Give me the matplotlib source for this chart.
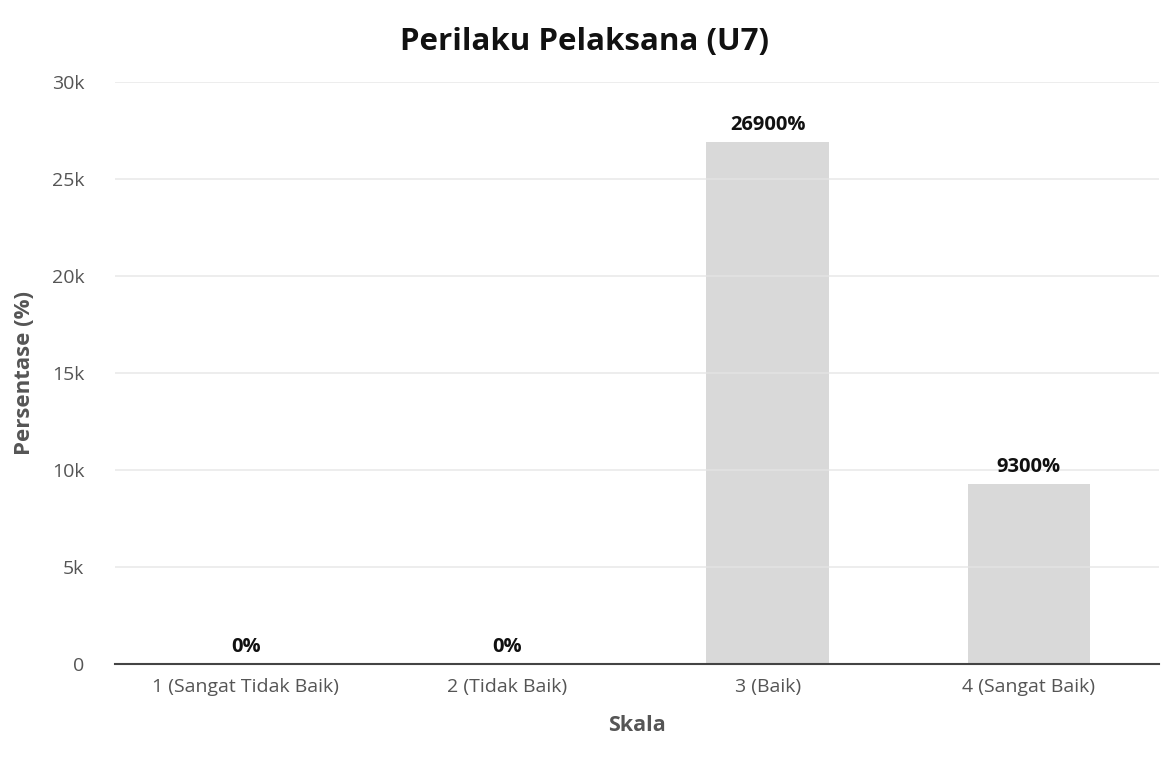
import numpy as np
import matplotlib.pyplot as plt

plt.rcParams['font.family'] = ['Open Sans', 'DejaVu Sans']

categories = ['1 (Sangat Tidak Baik)', '2 (Tidak Baik)', '3 (Baik)', '4 (Sangat Baik)']
values = [0, 0, 26900, 9300]
yticks = [0, 5000, 10000, 15000, 20000, 25000, 30000]
ytick_labels = ['0', '5k', '10k', '15k', '20k', '25k', '30k']

fig = plt.figure(figsize=(11.7, 7.62), dpi=100)
ax = fig.add_axes([0.0983, 0.1286, 0.8927, 0.7638])

x = np.arange(len(categories))
ax.bar(x, values, width=0.47, color='#d9d9d9', zorder=2)

ax.set_xlim(-0.5, len(categories) - 0.5)
ax.set_ylim(0, 30000)
ax.set_yticks(yticks)
ax.set_yticklabels(ytick_labels)
ax.set_xticks(x)
ax.set_xticklabels(categories)
ax.tick_params(axis='both', length=0, labelsize=14, colors='#555555')
ax.tick_params(axis='x', pad=10)
ax.tick_params(axis='y', pad=22)

ax.grid(axis='y', color='#e4e4e4', linewidth=1.2, zorder=3, alpha=0.8)
ax.set_axisbelow(False)
for side in ['top', 'right', 'left']:
    ax.spines[side].set_visible(False)
ax.spines['bottom'].set_color('#444444')
ax.spines['bottom'].set_linewidth(1.5)
ax.spines['bottom'].set_zorder(4)

for xi, v in zip(x, values):
    ax.annotate(f'{v}%', (xi, v), xytext=(0, 5), textcoords='offset points',
                ha='center', va='bottom', fontsize=14.5, fontweight='bold',
                color='#111111')

ax.set_xlabel('Skala', fontsize=15.5, fontweight='bold', color='#555555', labelpad=14)
ax.set_ylabel('Persentase (%)', fontsize=16, fontweight='bold', color='#555555', labelpad=12)
fig.suptitle('Perilaku Pelaksana (U7)', fontsize=22.5, fontweight='bold',
             color='#111111', y=0.965)

fig.savefig('out.png', dpi=100, facecolor='white')
